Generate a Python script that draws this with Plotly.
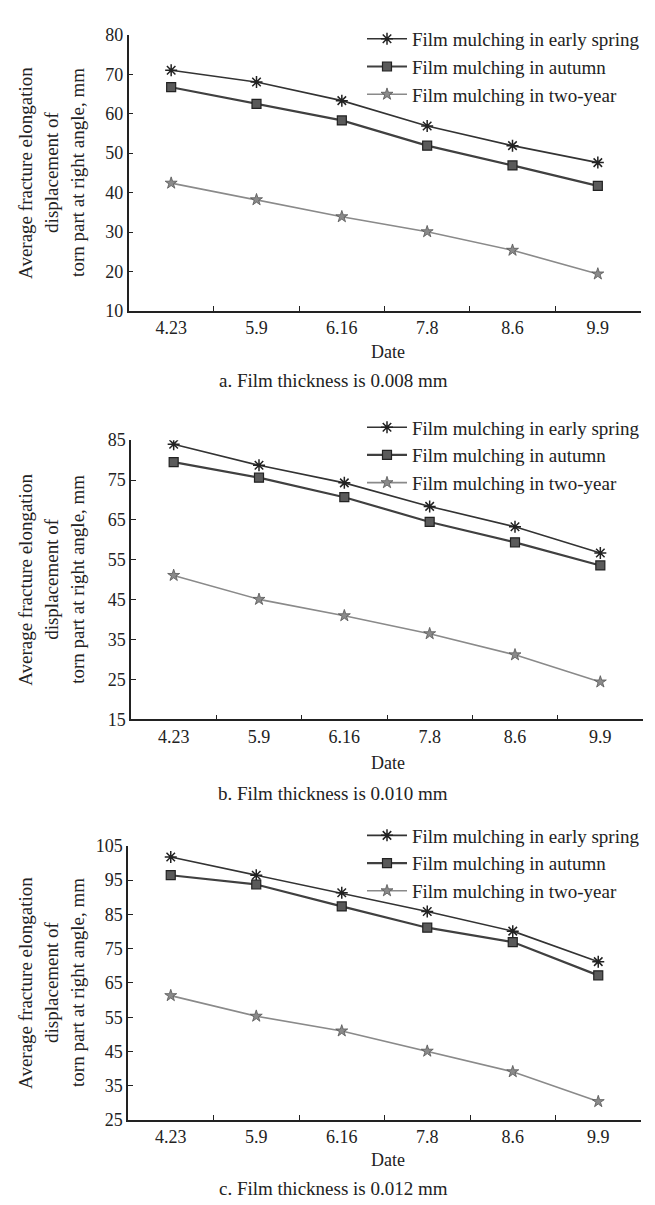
import plotly.graph_objects as go

dates = ["4.23", "5.9", "6.16", "7.8", "8.6", "9.9"]
series_names = ["Film mulching in early spring", "Film mulching in autumn", "Film mulching in two-year"]

spring_a = [71.0, 68.0, 63.3, 56.9, 51.9, 47.6]
autumn_a = [66.7, 62.5, 58.3, 51.9, 46.9, 41.7]
twoyear_a = [42.4, 38.2, 33.9, 30.1, 25.4, 19.4]

spring_b = [84.0, 78.7, 74.3, 68.4, 63.3, 56.7]
autumn_b = [79.5, 75.6, 70.7, 64.5, 59.4, 53.6]
twoyear_b = [51.1, 45.1, 41.0, 36.5, 31.2, 24.4]

spring_c = [101.7, 96.4, 91.3, 85.8, 80.1, 71.2]
autumn_c = [96.4, 93.7, 87.3, 81.1, 76.9, 67.2]
twoyear_c = [61.3, 55.3, 51.0, 45.1, 39.1, 30.4]

captions = ["a. Film thickness is 0.008 mm", "b. Film thickness is 0.010 mm", "c. Film thickness is 0.012 mm"]
y_ranges = [(10, 80), (15, 85), (25, 105)]
y_title_lines = ["Average fracture elongation", "displacement of", "torn part at right angle, mm"]

W, H = 655, 1205
FONT = "Liberation Serif"

# panel geometry in pixels (left, right, top, bottom)
panels = [
    (120.5, 632.5, 17.0, 298.0),
    (123.0, 635.0, 429.3, 713.3),
    (120.0, 633.0, 841.7, 1120.7),
]
legend_tops = [2, 397, 812]
date_y = [340, 758, 1161]
caption_y = [369, 789, 1190]

data = [
    (spring_a, autumn_a, twoyear_a),
    (spring_b, autumn_b, twoyear_b),
    (spring_c, autumn_c, twoyear_c),
]

styles = [
    dict(line=dict(color="#333333", width=1.6),
         marker=dict(symbol="asterisk-open", size=10, color="#222222", line=dict(color="#222222", width=1.5))),
    dict(line=dict(color="#404040", width=2.2),
         marker=dict(symbol="square", size=9, color="#5a5a5a", line=dict(color="#222222", width=1.2))),
    dict(line=dict(color="#8a8a8a", width=1.6),
         marker=dict(symbol="star", size=9, color="#8a8a8a", line=dict(color="#555555", width=0.8))),
]

fig = go.Figure()
annotations = []
layout = {}

for i, (vals, (l, r, t, b)) in enumerate(zip(data, panels)):
    k = "" if i == 0 else str(i + 1)
    legend_name = "legend" + k
    for j, (name, ys) in enumerate(zip(series_names, vals)):
        fig.add_trace(go.Scatter(
            x=dates, y=ys, name=name, mode="lines+markers",
            xaxis="x" + k, yaxis="y" + k, legend=legend_name,
            line=styles[j]["line"], marker=styles[j]["marker"],
        ))
    xd = [l / W, r / W]
    yd = [1 - b / H, 1 - t / H]
    layout["xaxis" + k] = dict(
        domain=xd, anchor="y" + k, type="category", range=[-0.5, 5.5],
        tickson="boundaries", ticks="inside", ticklen=5, tickwidth=1, tickcolor="#222",
        showline=True, linecolor="#222", linewidth=1.5, showgrid=False, zeroline=False,
        tickfont=dict(family=FONT, size=18, color="#222"),
    )
    lo, hi = y_ranges[i]
    layout["yaxis" + k] = dict(
        domain=yd, anchor="x" + k, range=[lo, hi], tickmode="linear", tick0=lo, dtick=10,
        ticks="inside", ticklen=5, tickwidth=1, tickcolor="#222",
        showline=True, linecolor="#222", linewidth=1.5, showgrid=False, zeroline=False,
        tickfont=dict(family=FONT, size=18, color="#222"),
    )
    layout[legend_name] = dict(
        x=354 / W, xanchor="left", y=1 - legend_tops[i] / H, yanchor="top",
        bgcolor="rgba(0,0,0,0)", borderwidth=0, itemwidth=40,
        font=dict(family=FONT, size=19, color="#222"),
    )
    # y-axis title lines
    cy = (t + b) / 2
    for xpos, txt in zip([18, 44, 70], y_title_lines):
        annotations.append(dict(
            x=xpos / W, y=1 - cy / H, xref="paper", yref="paper", text=txt,
            textangle=-90, showarrow=False, xanchor="center", yanchor="middle",
            font=dict(family=FONT, size=19, color="#222"),
        ))
    annotations.append(dict(
        x=380 / W, y=1 - date_y[i] / H, xref="paper", yref="paper", text="Date",
        showarrow=False, xanchor="center", yanchor="middle",
        font=dict(family=FONT, size=18, color="#222"),
    ))
    annotations.append(dict(
        x=325 / W, y=1 - caption_y[i] / H, xref="paper", yref="paper", text=captions[i],
        showarrow=False, xanchor="center", yanchor="middle",
        font=dict(family=FONT, size=19, color="#222"),
    ))

fig.update_layout(
    width=W, height=H, autosize=False,
    margin=dict(l=0, r=0, t=0, b=0),
    paper_bgcolor="white", plot_bgcolor="white",
    annotations=annotations,
    showlegend=True,
    **layout,
)

fig.write_html("out.html")
